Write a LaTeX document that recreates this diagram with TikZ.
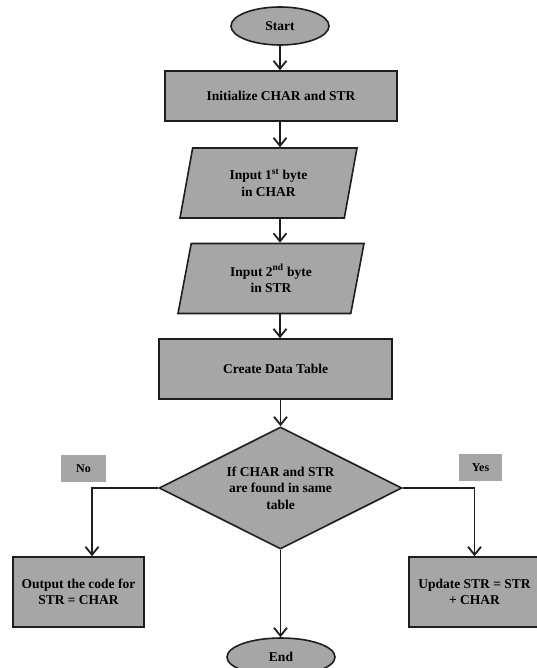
\documentclass[tikz,border=0pt]{standalone}
\usepackage{fontspec}
\setmainfont{Liberation Serif}
\usetikzlibrary{shapes.geometric,arrows.meta}
\definecolor{boxgray}{RGB}{166,166,166}
\definecolor{edgec}{RGB}{30,30,30}
\tikzset{
  base/.style={fill=boxgray, draw=edgec, line width=1.6pt, inner sep=0pt, align=center,
    font=\fontsize{13.5}{16.5}\selectfont\bfseries},
  term/.style={base, ellipse},
  procbox/.style={base, rectangle},
  iobox/.style={base, trapezium, trapezium left angle=65, trapezium right angle=115,
    trapezium stretches body=true},
  decbox/.style={base, diamond, aspect=2},
  lblbox/.style={fill=boxgray, draw=none, inner sep=0pt, font=\fontsize{12}{14}\selectfont\bfseries},
  arr/.style={draw=edgec, line width=1.8pt, -{Straight Barb[length=8pt,width=13pt,line width=1.8pt]}}
}
\begin{document}
\begin{tikzpicture}[x=1pt,y=-1pt]
\useasboundingbox[fill=white] (0,0) rectangle (537,668);
\node[term, minimum width=98pt, minimum height=38pt] (start) at (280,26) {Start};
\node[procbox, minimum width=232pt, minimum height=50pt] (init) at (281,96) {Initialize CHAR and STR};
\node[iobox, minimum width=177pt, minimum height=70pt] (in1) at (268.5,183) {Input 1\textsuperscript{st} byte\\in CHAR};
\node[iobox, minimum width=186pt, minimum height=70pt] (in2) at (271,278.5) {Input 2\textsuperscript{nd} byte\\in STR};
\node[procbox, minimum width=233pt, minimum height=60pt] (table) at (275.5,369) {Create Data Table};
\node[decbox, minimum width=243pt, minimum height=122pt] (dec) at (280.5,488) {If CHAR and STR\\are found in same\\table};
\node[lblbox, minimum width=45pt, minimum height=27pt] (no) at (83.5,468.5) {No};
\node[lblbox, minimum width=43pt, minimum height=27pt] (yes) at (480.5,467.5) {Yes};
\node[procbox, minimum width=131pt, minimum height=70pt] (out) at (78.5,592) {Output the code for\\STR = CHAR};
\node[procbox, minimum width=131pt, minimum height=70pt] (upd) at (474.5,592) {Update STR = STR\\+ CHAR};
\node[term, minimum width=108pt, minimum height=38pt] (end) at (281,657) {End};

\draw[arr] (start.south) -- (start.south |- init.north);
\draw[arr] (start.south |- init.south) -- (start.south |- in1.north);
\draw[arr] (start.south |- in1.south) -- (start.south |- in2.north);
\draw[arr] (start.south |- in2.south) -- (start.south |- table.north);
\draw[arr] (dec.north |- table.south) -- (dec.north);
\draw[arr] (dec.west) -| ([xshift=13.5pt]out.north);
\draw[arr] (dec.east) -| (upd.north);
\draw[arr] (dec.south) -- (dec.south |- end.north);
\end{tikzpicture}
\end{document}
